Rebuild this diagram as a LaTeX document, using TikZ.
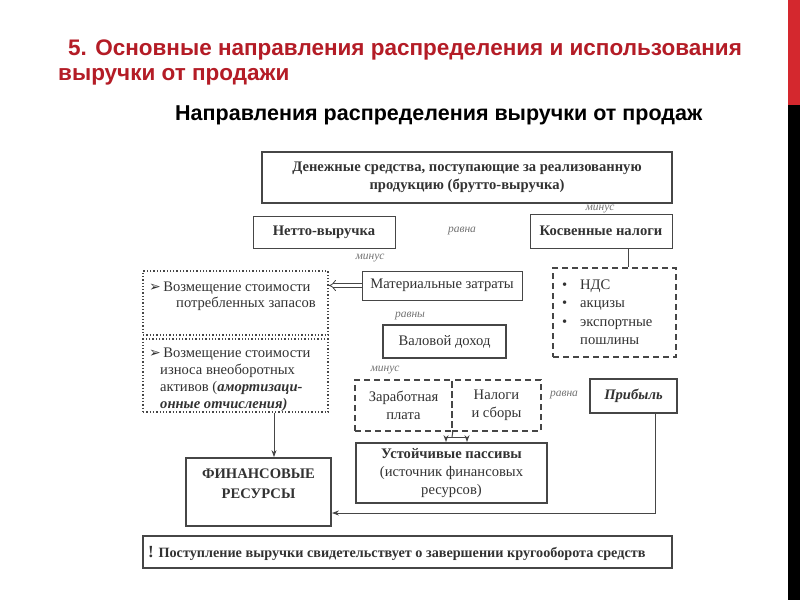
\documentclass[tikz,border=0pt]{standalone}
\usepackage{fontspec}
\setmainfont{Liberation Serif}
\newfontfamily\tsans{Liberation Sans}
\newfontfamily\dvs{DejaVu Sans}
\usetikzlibrary{arrows.meta}
\definecolor{titred}{RGB}{180,28,38}
\definecolor{barred}{RGB}{212,40,46}
\definecolor{ln}{RGB}{70,70,70}
\definecolor{txt}{RGB}{50,50,50}
\newcommand{\bfs}{\fontsize{14.6}{18}\selectfont}
\begin{document}
\begin{tikzpicture}[x=1pt,y=-1pt,
 bx/.style={draw=ln, line width=1pt, inner sep=0pt, text=txt, align=center, font=\bfs},
 thk/.style={line width=1.8pt},
 dotb/.style={draw=ln, line width=1.3pt, dotted},
 dsh/.style={draw=ln, line width=1.6pt, dash pattern=on 6pt off 4pt},
 lab/.style={text=black!55, font=\fontsize{11.5}{13}\selectfont\itshape, inner sep=0pt},
 arr/.style={draw=ln, line width=1pt, -{Stealth[length=7pt,width=5pt]}},
 con/.style={draw=ln, line width=1pt},
 tx/.style={text=txt, inner sep=0pt, font=\bfs, anchor=base west},
 ttl/.style={anchor=base west, inner sep=0pt, text=titred, font=\tsans\bfseries\fontsize{22.5}{26}\selectfont}
]
\useasboundingbox (0,0) rectangle (800,600);
\fill[white] (0,0) rectangle (800,600);
\fill[barred] (788,0) rectangle (800,105);
\fill[black] (788,105) rectangle (800,600);

% titles
\node[ttl] (t1) at (68,55) {5. Основные направления распределения и использования};
\node[ttl] (t2) at (58,80) {выручки от продажи};
\node[anchor=base west, inner sep=0pt, text=black, font=\tsans\bfseries\fontsize{21.5}{26}\selectfont] (t3) at (175,120) {Направления распределения выручки от продаж};

% boxes
\node[bx, thk, minimum width=410pt, minimum height=51pt, font=\bfs\bfseries] (top) at (467,177.5) {Денежные средства, поступающие за реализованную\\продукцию (брутто-выручка)};
\node[bx, minimum width=142pt, minimum height=32pt, font=\bfs\bfseries] (netto) at (324,232) {Нетто-выручка};
\node[bx, minimum width=142pt, minimum height=34pt, font=\bfs\bfseries] (kosv) at (601,231) {Косвенные налоги};
\node[bx, minimum width=160pt, minimum height=29pt] (mat) at (442,285.5) {Материальные затраты};
\node[bx, thk, minimum width=123pt, minimum height=33pt] (val) at (444.5,341.5) {Валовой доход};
\node[bx, dotb, minimum width=185pt, minimum height=64pt] (dot1) at (235.5,303) {};
\node[bx, dotb, minimum width=185pt, minimum height=73pt] (dot2) at (235.5,375.5) {};
\node[bx, dsh, minimum width=123pt, minimum height=89pt] (nds) at (614.5,312.5) {};
\node[bx, dsh, minimum width=97pt, minimum height=51pt] (zp) at (403.5,405.5) {Заработная\\плата};
\node[bx, dsh, minimum width=89pt, minimum height=51pt] (ns) at (496.5,405.5) {Налоги\\и сборы};
\node[bx, line width=1.4pt, minimum width=87pt, minimum height=34pt, font=\bfs\bfseries\itshape] (prib) at (633.5,396) {Прибыль};
\node[bx, thk, minimum width=191pt, minimum height=60pt] (ust) at (451.5,473) {\textbf{Устойчивые пассивы}\\(источник финансовых\\ресурсов)};
\node[bx, thk, minimum width=145pt, minimum height=68pt] (fin) at (258.5,492) {};
\node[bx, line width=1.2pt, minimum width=529pt, minimum height=32pt] (bot) at (407.5,552) {};

% texts inside boxes
\node[tx] (d1a) at (149,291) {{\dvs\fontsize{14}{14}\selectfont ➢}\,Возмещение стоимости};
\node[tx] (d1b) at (176,307) {потребленных запасов};
\node[tx] (d2a) at (149,357) {{\dvs\fontsize{14}{14}\selectfont ➢}\,Возмещение стоимости};
\node[tx] (d2b) at (160,374) {износа внеоборотных};
\node[tx] (d2c) at (160,391) {активов (\textbf{\textit{амортизаци-}}};
\node[tx] (d2d) at (160,408) {\textbf{\textit{онные отчисления)}}};
\node[tx] (n1) at (562,289) {•};
\node[tx] (n1t) at (580,289) {НДС};
\node[tx] (n2) at (562,307) {•};
\node[tx] (n2t) at (580,307) {акцизы};
\node[tx] (n3) at (562,326) {•};
\node[tx] (n3t) at (580,326) {экспортные};
\node[tx] (n4t) at (580,344) {пошлины};
\node[tx, anchor=base, font=\bfs\bfseries] (fint) at (258.5,478) {ФИНАНСОВЫЕ};
\node[tx, anchor=base, font=\bfs\bfseries] (finr) at (258.5,498) {РЕСУРСЫ};
\node[tx, font=\fontsize{14.2}{18}\selectfont\bfseries] (bott) at (148,557) {{\fontsize{17}{18}\selectfont !} Поступление выручки свидетельствует о завершении кругооборота средств};

% labels
\node[lab] (l1) at (600,209) {минус};
\node[lab] (l2) at (462,231) {равна};
\node[lab] (l3) at (370,258) {минус};
\node[lab] (l4) at (410,316) {равны};
\node[lab] (l5) at (385,370) {минус};
\node[lab] (l6) at (564,395) {равна};

% connectors
\coordinate (kx) at (628,0);
\draw[con] (kosv.south -| kx) -- (nds.north -| kx);
\draw[draw=ln, line width=0.8pt, double, double distance=3pt, -{Implies}] (mat.west) -- (dot1.east |- mat.west);
\coordinate (fx) at (274,0);
\draw[arr] (dot2.south -| fx) -- (fin.north -| fx);
\coordinate (fork) at (452,437);
\coordinate (fa) at (446,437);
\coordinate (fb) at (467,437);
\draw[con] (zp.south east) -- (fork);
\draw[con] (fa) -- (fb);
\draw[arr] (fa) -- (ust.north -| fa);
\draw[arr] (fb) -- (ust.north -| fb);
\coordinate (pc) at (655,513);
\draw[arr] (prib.south -| pc) -- (pc) -- (fin.east |- pc);
\end{tikzpicture}
\end{document}
